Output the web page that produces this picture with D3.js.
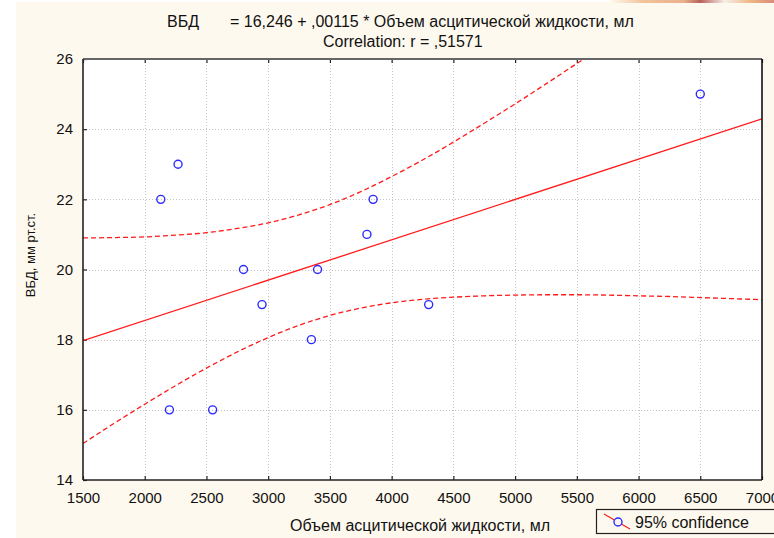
<!DOCTYPE html>
<html>
<head>
<meta charset="utf-8">
<script src="https://cdn.jsdelivr.net/npm/d3@7"></script>
<style>
  html, body { margin: 0; padding: 0; background: #ffffff; }
  svg { display: block; }
  text { font-family: Arial, "Liberation Sans", sans-serif; fill: #111; }
</style>
</head>
<body>
<svg id="chart" width="774" height="538"></svg>
<script>
// Observations: ascites fluid volume (ml) vs intra-abdominal pressure (mm Hg)
const volume   = [2130, 2270, 2200, 2550, 2800, 2950, 3350, 3400, 3800, 3850, 4300, 6500];
const pressure = [22,   23,   16,   16,   20,   19,   18,   20,   21,   22,   19,   25];

// Fitted regression: ВБД = 16,246 + ,00115 * volume
const intercept = 16.246;
const slope = 0.00115;

// 95% confidence band of the fitted line
const bandX     = [1500, 1750, 2000, 2250, 2500, 2750, 3000, 3250, 3500, 3750, 4000, 4250,
                   4500, 4750, 5000, 5250, 5500, 5750, 6000, 6250, 6500, 6750, 7000];
const bandUpper = [20.90, 20.91, 20.93, 20.98, 21.05, 21.17, 21.33, 21.56, 21.85, 22.22, 22.65, 23.12,
                   23.63, 24.17, 24.72, 25.29, 25.87, 26.45, 27.04, 27.64, 28.24, 28.85, 29.45];
const bandLower = [15.04, 15.61, 16.16, 16.69, 17.19, 17.65, 18.06, 18.41, 18.69, 18.90, 19.05, 19.15,
                   19.21, 19.25, 19.27, 19.28, 19.28, 19.27, 19.25, 19.23, 19.20, 19.17, 19.14];

const xTicks = [1500, 2000, 2500, 3000, 3500, 4000, 4500, 5000, 5500, 6000, 6500, 7000];
const yTicks = [14, 16, 18, 20, 22, 24, 26];

const titleVar = "ВБД";
const titleEq = "= 16,246 + ,00115 * Объем асцитической жидкости, мл";
const titleCorr = "Correlation: r = ,51571";
const xLabel = "Объем асцитической жидкости, мл";
const yLabel = "ВБД, мм рт.ст.";
const legendLabel = "95% confidence";

const svg = d3.select("#chart");
const W = 774, H = 538;
const plot = { left: 83, top: 59, right: 762, bottom: 480 };

// page background
svg.append("rect").attr("x", 0).attr("y", 0).attr("width", W).attr("height", H).attr("fill", "#ffffff");
svg.append("rect").attr("x", 16).attr("y", 2).attr("width", W - 16).attr("height", H - 2).attr("fill", "#fef9ee");
const grad = svg.append("defs").append("linearGradient").attr("id", "topstrip");
[["0%", "#fef9ee"], ["20%", "#f2c49a"], ["45%", "#e9b08c"], ["55%", "#b8625a"], ["70%", "#f6efe8"], ["85%", "#f0b888"], ["100%", "#d98c78"]]
  .forEach(([o, c]) => grad.append("stop").attr("offset", o).attr("stop-color", c));
svg.append("rect").attr("x", 610).attr("y", 0).attr("width", 164).attr("height", 3).attr("fill", "url(#topstrip)");

const x = d3.scaleLinear().domain([1500, 7000]).range([plot.left, plot.right]);
const y = d3.scaleLinear().domain([14, 26]).range([plot.bottom, plot.top]);

// plot area
svg.append("rect")
  .attr("x", plot.left).attr("y", plot.top)
  .attr("width", plot.right - plot.left).attr("height", plot.bottom - plot.top)
  .attr("fill", "#ffffff");

svg.append("defs").append("clipPath").attr("id", "plotclip")
  .append("rect")
  .attr("x", plot.left).attr("y", plot.top)
  .attr("width", plot.right - plot.left).attr("height", plot.bottom - plot.top);

// dotted grid
const grid = svg.append("g").attr("stroke", "#c4c4c4").attr("stroke-width", 1).attr("stroke-dasharray", "1,2");
grid.selectAll(".gx").data(xTicks.slice(1, -1)).join("line")
  .attr("x1", d => Math.round(x(d)) + 0.5).attr("x2", d => Math.round(x(d)) + 0.5)
  .attr("y1", plot.top).attr("y2", plot.bottom);
grid.selectAll(".gy").data(yTicks.slice(1, -1)).join("line")
  .attr("y1", d => Math.round(y(d)) + 0.5).attr("y2", d => Math.round(y(d)) + 0.5)
  .attr("x1", plot.left).attr("x2", plot.right);

// axes with inward ticks
const xAxis = svg.append("g").attr("transform", `translate(0,${plot.bottom})`)
  .call(d3.axisBottom(x).tickValues(xTicks).tickSizeInner(-4).tickSizeOuter(0).tickPadding(12).tickFormat(d3.format("d")));
const xAxisTop = svg.append("g").attr("transform", `translate(0,${plot.top})`)
  .call(d3.axisTop(x).tickValues(xTicks).tickSizeInner(-4).tickSizeOuter(0).tickFormat(""));
const yAxis = svg.append("g").attr("transform", `translate(${plot.left},0)`)
  .call(d3.axisLeft(y).tickValues(yTicks).tickSizeInner(-4).tickSizeOuter(0).tickPadding(10).tickFormat(d3.format("d")));
[xAxis, xAxisTop, yAxis].forEach(g => {
  g.select(".domain").remove();
  g.selectAll(".tick line").attr("stroke", "#222").attr("stroke-width", 1.2);
  g.selectAll(".tick text").attr("font-size", 15).attr("fill", "#111")
    .attr("font-family", "Arial, 'Liberation Sans', sans-serif");
});

// regression line and confidence band
const lines = svg.append("g").attr("clip-path", "url(#plotclip)");
lines.append("line")
  .attr("x1", x(1500)).attr("y1", y(intercept + slope * 1500))
  .attr("x2", x(7000)).attr("y2", y(intercept + slope * 7000))
  .attr("stroke", "#ff1a1a").attr("stroke-width", 1.3);
const band = d3.line().x((d, i) => x(bandX[i])).y(d => y(d)).curve(d3.curveMonotoneX);
[bandUpper, bandLower].forEach(b => {
  lines.append("path").attr("d", band(b))
    .attr("fill", "none").attr("stroke", "#ff1a1a").attr("stroke-width", 1.3)
    .attr("stroke-dasharray", "5,3");
});

// points
svg.append("g").selectAll("circle").data(volume).join("circle")
  .attr("cx", (d) => x(d)).attr("cy", (d, i) => y(pressure[i]))
  .attr("r", 4).attr("fill", "none").attr("stroke", "#2b2bff").attr("stroke-width", 1.4);

// frame
svg.append("line").attr("x1", plot.left).attr("x2", plot.right).attr("y1", plot.top).attr("y2", plot.top)
  .attr("stroke", "#666").attr("stroke-width", 2);
svg.append("line").attr("x1", plot.left).attr("x2", plot.left).attr("y1", plot.top).attr("y2", plot.bottom)
  .attr("stroke", "#222").attr("stroke-width", 1.6);
svg.append("line").attr("x1", plot.left).attr("x2", plot.right).attr("y1", plot.bottom).attr("y2", plot.bottom)
  .attr("stroke", "#222").attr("stroke-width", 1.6);
svg.append("line").attr("x1", plot.right).attr("x2", plot.right).attr("y1", plot.top).attr("y2", plot.bottom)
  .attr("stroke", "#111").attr("stroke-width", 1.6);

// title
svg.append("text").attr("x", 167).attr("y", 27).attr("font-size", 16).text(titleVar);
svg.append("text").attr("x", 230).attr("y", 27).attr("font-size", 16).text(titleEq);
svg.append("text").attr("x", 323).attr("y", 47).attr("font-size", 16).text(titleCorr);

// axis titles
svg.append("text").attr("x", 420).attr("y", 531).attr("text-anchor", "middle").attr("font-size", 16).text(xLabel);
svg.append("text").attr("transform", "translate(35,255) rotate(-90)").attr("text-anchor", "middle")
  .attr("font-size", 13).text(yLabel);

// legend
const lg = svg.append("g");
lg.append("rect").attr("x", 596.5).attr("y", 509.5).attr("width", 180).attr("height", 24)
  .attr("fill", "none").attr("stroke", "#222").attr("stroke-width", 1.2);
lg.append("line").attr("x1", 604).attr("y1", 514).attr("x2", 630).attr("y2", 529)
  .attr("stroke", "#ff1a1a").attr("stroke-width", 1.2);
lg.append("circle").attr("cx", 618).attr("cy", 522).attr("r", 4)
  .attr("fill", "#fef9ee").attr("stroke", "#2b2bff").attr("stroke-width", 1.4);
lg.append("text").attr("x", 635).attr("y", 527.5).attr("font-size", 16).text(legendLabel);
</script>
</body>
</html>
